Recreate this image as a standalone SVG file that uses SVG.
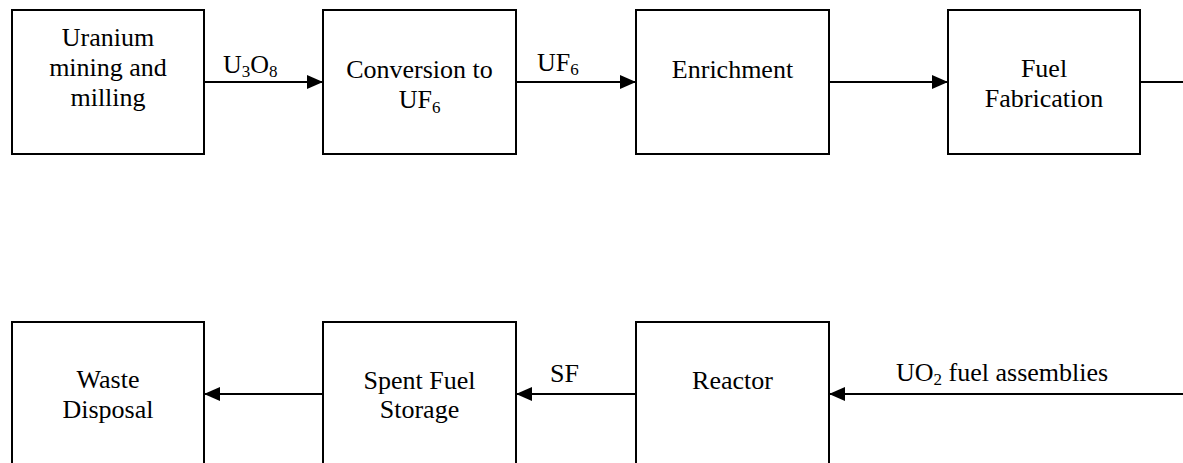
<svg xmlns="http://www.w3.org/2000/svg" width="1183" height="463" viewBox="0 0 1183 463" font-family="Liberation Serif, Times New Roman, serif">
<style>
.box{fill:#fff;stroke:#000;stroke-width:2}
.t{font-size:26px;fill:#000;text-anchor:middle}
.l{font-size:26px;fill:#000}
.s{font-size:17px}
.c{stroke:#000;stroke-width:2;fill:none}
</style>
<defs>
<marker id="ah" markerWidth="16" markerHeight="14" refX="16" refY="7" orient="auto" markerUnits="userSpaceOnUse">
<path d="M0,0 L16,7 L0,14 Z" fill="#000"/>
</marker>
</defs>
<rect width="1183" height="463" fill="#fff"/>
<g id="n1"><rect class="box" x="12" y="10" width="192" height="144"/>
<text class="t" x="108" y="46" font-family="Liberation Serif">Uranium</text><text class="t" x="108" y="76" font-family="Liberation Serif">mining and</text><text class="t" x="108" y="106" font-family="Liberation Serif">milling</text></g>
<g id="n2"><rect class="box" x="323" y="10" width="193" height="144"/>
<text class="t" x="419.5" y="78" font-family="Liberation Serif">Conversion to</text><text class="t" x="419.5" y="108" font-family="Liberation Serif">UF<tspan class="s" dy="5">6</tspan></text></g>
<g id="n3"><rect class="box" x="636" y="10" width="193" height="144"/>
<text class="t" x="732.5" y="78" font-family="Liberation Serif">Enrichment</text></g>
<g id="n4"><rect class="box" x="948" y="10" width="192" height="144"/>
<text class="t" x="1044" y="77" font-family="Liberation Serif">Fuel</text><text class="t" x="1044" y="107" font-family="Liberation Serif">Fabrication</text></g>
<g id="n5"><rect class="box" x="12" y="322" width="192" height="160"/>
<text class="t" x="108" y="388" font-family="Liberation Serif">Waste</text><text class="t" x="108" y="418" font-family="Liberation Serif">Disposal</text></g>
<g id="n6"><rect class="box" x="323" y="322" width="193" height="160"/>
<text class="t" x="419.5" y="389" font-family="Liberation Serif">Spent Fuel</text><text class="t" x="419.5" y="418" font-family="Liberation Serif">Storage</text></g>
<g id="n7"><rect class="box" x="636" y="322" width="193" height="160"/>
<text class="t" x="732.5" y="389" font-family="Liberation Serif">Reactor</text></g>
<g id="connectors">
<line class="c" x1="204" y1="82" x2="323" y2="82" marker-end="url(#ah)"/>
<line class="c" x1="516" y1="82" x2="636" y2="82" marker-end="url(#ah)"/>
<line class="c" x1="829" y1="82" x2="948" y2="82" marker-end="url(#ah)"/>
<line class="c" x1="1140" y1="82" x2="1183" y2="82"/>
<line class="c" x1="1183" y1="394" x2="829" y2="394" marker-end="url(#ah)"/>
<line class="c" x1="636" y1="394" x2="516" y2="394" marker-end="url(#ah)"/>
<line class="c" x1="323" y1="394" x2="204" y2="394" marker-end="url(#ah)"/>
<text class="l" x="223" y="73" font-family="Liberation Serif">U<tspan class="s" dy="4">3</tspan><tspan dy="-4">O</tspan><tspan class="s" dy="4">8</tspan></text>
<text class="l" x="537" y="71" font-family="Liberation Serif">UF<tspan class="s" dy="4">6</tspan></text>
<text class="l" x="550" y="382" font-family="Liberation Serif">SF</text>
<text class="l" x="896" y="381" font-family="Liberation Serif">UO<tspan class="s" dy="4">2</tspan><tspan dy="-4"> fuel assemblies</tspan></text>
</g>
</svg>
